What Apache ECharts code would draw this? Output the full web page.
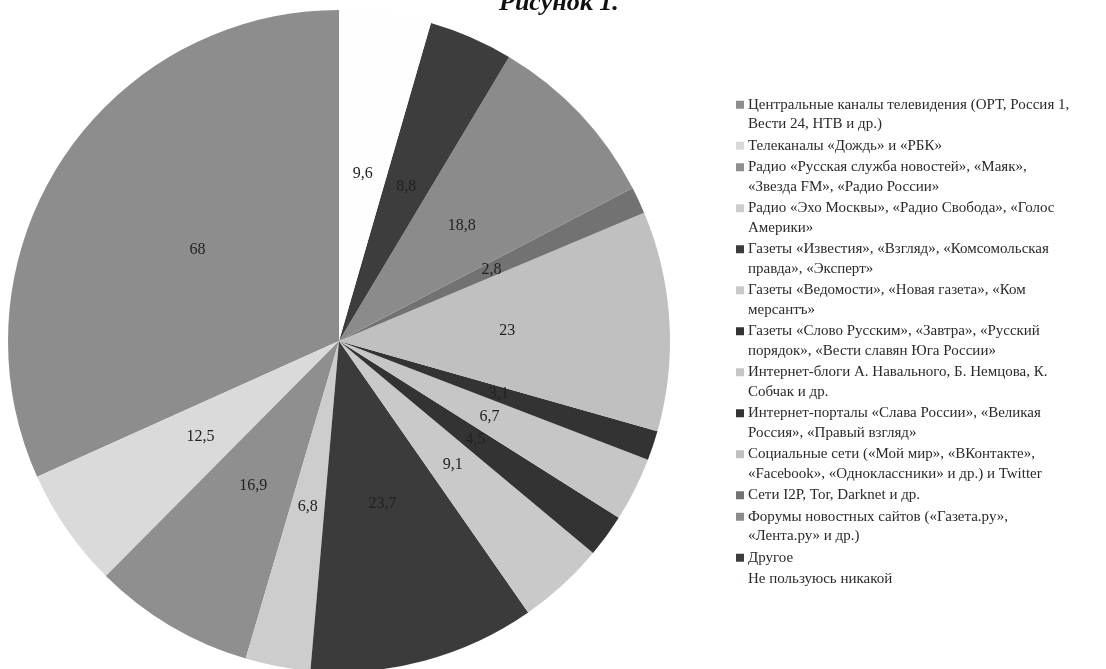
<!DOCTYPE html>
<html>
<head>
<meta charset="utf-8">
<script src="https://cdn.jsdelivr.net/npm/echarts@6/dist/echarts.min.js"></script>
<style>
html,body{margin:0;padding:0;background:#fff;}
#chart{width:1106px;height:669px;}
</style>
</head>
<body>
<div id="chart"></div>
<script>
const categories = [
  "Центральные каналы телевидения (ОРТ, Россия 1,\nВести 24, НТВ и др.)",
  "Телеканалы «Дождь» и «РБК»",
  "Радио «Русская служба новостей», «Маяк»,\n«Звезда FM», «Радио России»",
  "Радио «Эхо Москвы», «Радио Свобода», «Голос\nАмерики»",
  "Газеты «Известия», «Взгляд», «Комсомольская\nправда», «Эксперт»",
  "Газеты «Ведомости», «Новая газета», «Ком\nмерсантъ»",
  "Газеты «Слово Русским», «Завтра», «Русский\nпорядок», «Вести славян Юга России»",
  "Интернет-блоги А. Навального, Б. Немцова, К.\nСобчак и др.",
  "Интернет-порталы «Слава России», «Великая\nРоссия», «Правый взгляд»",
  "Социальные сети («Мой мир», «ВКонтакте»,\n«Facebook», «Одноклассники» и др.) и Twitter",
  "Сети I2P, Tor, Darknet и др.",
  "Форумы новостных сайтов («Газета.ру»,\n«Лента.ру» и др.)",
  "Другое",
  "Не пользуюсь никакой"
];
const values = [68, 12.5, 16.9, 6.8, 23.7, 9.1, 4.5, 6.7, 3.1, 23, 2.8, 18.8, 8.8, 9.6];
const colors = ["#8d8d8d", "#dadada", "#8f8f8f", "#cdcdcd", "#3b3b3b", "#c9c9c9", "#333333",
                "#c6c6c6", "#333333", "#c0c0c0", "#727272", "#8b8b8b", "#3d3d3d", "#fefefe"];
const titleText = "Рисунок 1.";

const serif = "'Liberation Serif', 'DejaVu Serif', serif";
const rich = {
  t: { fontFamily: serif, fontSize: 15, lineHeight: 19.5, color: "#2a2a2a", padding: [0, 0, 0, 4] },
  sp: { width: 8, height: 8 }
};
colors.forEach((c, i) => {
  rich['s' + i] = { width: 8, height: 8, backgroundColor: c };
});

const chart = echarts.init(document.getElementById('chart'), null, { renderer: 'canvas' });
chart.setOption({
  backgroundColor: '#ffffff',
  animation: false,
  title: {
    text: titleText,
    left: 494,
    top: -15,
    textStyle: { fontFamily: serif, fontSize: 26, fontWeight: 'bold', fontStyle: 'italic', color: '#111' }
  },
  legend: {
    orient: 'vertical',
    left: 726,
    top: 90,
    icon: 'none',
    itemWidth: 0,
    itemHeight: 0,
    itemGap: 2,
    selectedMode: false,
    data: categories,
    formatter: function (name) {
      const i = categories.indexOf(name);
      return name.split('\n').map((l, k) => (k === 0 ? '{s' + i + '|}' : '{sp|}') + '{t|' + l + '}').join('\n');
    },
    textStyle: { rich: rich, fontFamily: serif, fontSize: 15, lineHeight: 19.5 }
  },
  series: [{
    type: 'pie',
    center: [339, 341],
    radius: [0, 331],
    startAngle: 90,
    clockwise: false,
    avoidLabelOverlap: false,
    labelLine: { show: false },
    label: {
      show: true,
      position: 'inside',
      fontFamily: serif,
      fontSize: 16,
      color: '#222',
      formatter: p => String(p.value).replace('.', ',')
    },
    itemStyle: { borderWidth: 0 },
    emphasis: { disabled: true },
    data: categories.map((n, i) => ({ name: n, value: values[i], itemStyle: { color: colors[i] } }))
  }]
});
</script>
</body>
</html>
